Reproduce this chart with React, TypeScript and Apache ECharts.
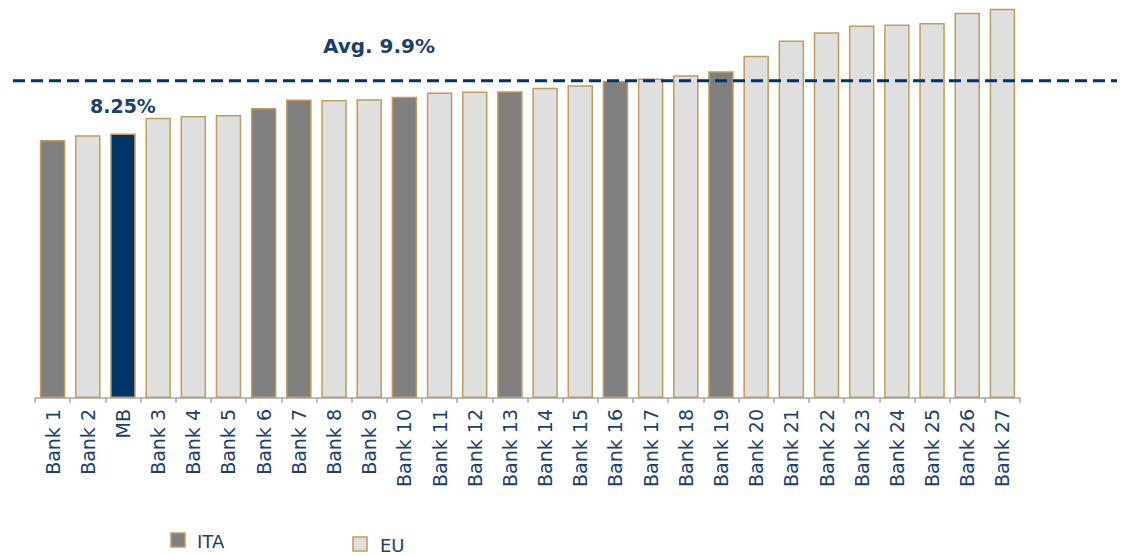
import React, { useEffect, useRef } from "react";
import * as echarts from "echarts";

const categories = [
  "Bank 1", "Bank 2", "MB", "Bank 3", "Bank 4", "Bank 5", "Bank 6", "Bank 7", "Bank 8", "Bank 9",
  "Bank 10", "Bank 11", "Bank 12", "Bank 13", "Bank 14", "Bank 15", "Bank 16", "Bank 17", "Bank 18",
  "Bank 19", "Bank 20", "Bank 21", "Bank 22", "Bank 23", "Bank 24", "Bank 25", "Bank 26", "Bank 27",
];
const values = [
  8.05, 8.2, 8.25, 8.74, 8.8, 8.83, 9.05, 9.31, 9.3, 9.32,
  9.4, 9.53, 9.56, 9.57, 9.68, 9.76, 9.9, 9.97, 10.07,
  10.19, 10.68, 11.15, 11.41, 11.62, 11.65, 11.7, 12.02, 12.14,
];
const groups = [
  "ITA", "EU", "MB", "EU", "EU", "EU", "ITA", "ITA", "EU", "EU",
  "ITA", "EU", "EU", "ITA", "EU", "EU", "ITA", "EU", "EU",
  "ITA", "EU", "EU", "EU", "EU", "EU", "EU", "EU", "EU",
];
const average = 9.9;
const avgLabel = "Avg. 9.9%";
const mbLabel = "8.25%";
const legendItems = ["ITA", "EU"];

const NAVY = "#003366";
const TEXT = "#1B3F6E";
const GOLD = "#C49A5C";
const COLORS: Record<string, string> = { ITA: "#7F7F7F", EU: "#DFDFDF", MB: NAVY };

export default function App() {
  const ref = useRef<HTMLDivElement>(null);
  useEffect(() => {
    if (!ref.current) return;
    const chart = echarts.init(ref.current, null, { renderer: "svg" });
    const data = values.map((v, i) => ({
      value: v,
      itemStyle: { color: COLORS[groups[i]], borderColor: GOLD, borderWidth: 1.5 },
      label:
        groups[i] === "MB"
          ? {
              show: true,
              position: "top",
              distance: 18,
              formatter: mbLabel,
              fontFamily: "DejaVu Sans",
              fontWeight: "bold",
              fontSize: 19,
              color: TEXT,
            }
          : { show: false },
    }));
    chart.setOption({
      animation: false,
      grid: { left: 35, right: 104, top: 0.5, bottom: 158 },
      xAxis: {
        type: "category",
        data: categories,
        axisLine: { lineStyle: { color: "#A6A6A6", width: 1.5 } },
        axisTick: { show: true, length: 5, interval: 0, lineStyle: { color: "#A6A6A6", width: 1.5 } },
        axisLabel: {
          rotate: 90,
          interval: 0,
          margin: 11,
          color: TEXT,
          fontFamily: "DejaVu Sans",
          fontSize: 19,
        },
      },
      yAxis: { type: "value", min: 0, max: 12.4, show: false, splitLine: { show: false } },
      series: [
        {
          type: "bar",
          data,
          barWidth: 25.5,
        },
      ],
    });
    const y = chart.convertToPixel({ yAxisIndex: 0 }, average) as number;
    chart.setOption({
      graphic: [
        {
          type: "line",
          shape: { x1: 13, y1: y, x2: 1117, y2: y },
          style: { stroke: NAVY, lineWidth: 3, lineDash: [12, 6] },
          z: 10,
        },
        {
          type: "text",
          x: 379,
          y: y - 35,
          style: {
            text: avgLabel,
            fill: TEXT,
            font: "bold 20px 'DejaVu Sans'",
            align: "center",
            verticalAlign: "middle",
          },
        },
        {
          type: "rect",
          shape: { x: 171, y: 533, width: 14, height: 14 },
          style: { fill: COLORS.ITA, stroke: GOLD, lineWidth: 1.5 },
        },
        {
          type: "text",
          x: 197,
          y: 541,
          style: { text: legendItems[0], fill: TEXT, font: "18px 'DejaVu Sans'", verticalAlign: "middle" },
        },
        {
          type: "rect",
          shape: { x: 353, y: 537, width: 14, height: 14 },
          style: { fill: COLORS.EU, stroke: GOLD, lineWidth: 1.5 },
        },
        {
          type: "text",
          x: 380,
          y: 545,
          style: { text: legendItems[1], fill: TEXT, font: "18px 'DejaVu Sans'", verticalAlign: "middle" },
        },
      ],
    });
    return () => chart.dispose();
  }, []);
  return (
    <div
      ref={ref}
      style={{ position: "fixed", left: 0, top: 0, width: 1124, height: 556, background: "#fff" }}
    />
  );
}
